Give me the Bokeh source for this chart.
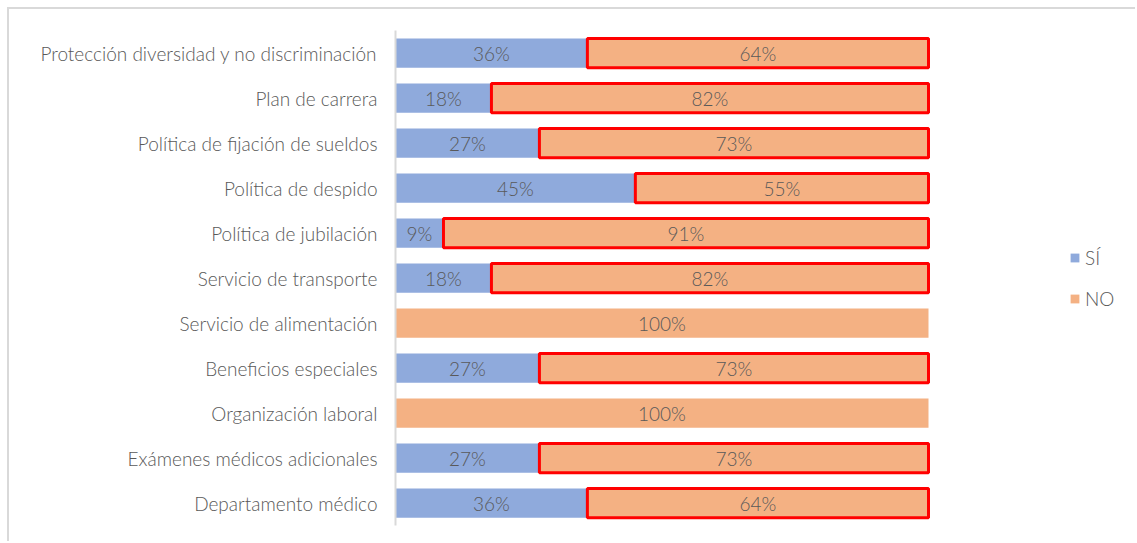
from bokeh.plotting import figure
from bokeh.models import ColumnDataSource, Range1d, FactorRange, Legend, LegendItem
from bokeh.core.properties import value
from bokeh.embed import file_html
from bokeh.resources import INLINE

categories = [
    "Protección diversidad y no discriminación",
    "Plan de carrera",
    "Política de fijación de sueldos",
    "Política de despido",
    "Política de jubilación",
    "Servicio de transporte",
    "Servicio de alimentación",
    "Beneficios especiales",
    "Organización laboral",
    "Exámenes médicos adicionales",
    "Departamento médico",
]
si_values = [36, 18, 27, 45, 9, 18, 0, 27, 0, 27, 36]
no_values = [64, 82, 73, 55, 91, 82, 100, 73, 100, 73, 64]
series_names = ["SÍ", "NO"]

BLUE = "#8FAADC"
ORANGE = "#F4B183"
RED = "#FF0000"
TEXT = "#595959"
FONT = "Lato Light"

src = ColumnDataSource(dict(cat=categories, si=si_values, no=no_values,
                            no_end=[s + n for s, n in zip(si_values, no_values)]))

out_idx = [i for i, s in enumerate(si_values) if s > 0]
out_src = ColumnDataSource(dict(cat=[categories[i] for i in out_idx],
                                left=[si_values[i] for i in out_idx],
                                right=[si_values[i] + no_values[i] for i in out_idx]))

lab_cat, lab_x, lab_txt = [], [], []
for c, s, n in zip(categories, si_values, no_values):
    if s > 0:
        lab_cat.append(c); lab_x.append(s / 2); lab_txt.append(f"{s}%")
    if n > 0:
        lab_cat.append(c); lab_x.append(s + n / 2); lab_txt.append(f"{n}%")
lab_src = ColumnDataSource(dict(cat=lab_cat, x=lab_x, t=lab_txt))

OFF = 9  # outer chart border (7px gap + 2px line)
W, H = 1137 - OFF, 543 - OFF
left_b, right_b, top_b, bot_b = 395 - OFF, 7, 30 - OFF, 18
frame_w = W - left_b - right_b
px_per_pct = 5.33

p = figure(width=W, height=H, output_backend="svg", toolbar_location=None,
           y_range=FactorRange(factors=categories[::-1], range_padding=0),
           x_range=Range1d(0, frame_w / px_per_pct),
           min_border_left=left_b, min_border_right=right_b,
           min_border_top=top_b, min_border_bottom=bot_b,
           margin=(7, 0, 0, 7))
p.styles = {"border-top": "2px solid #D9D9D9", "border-left": "2px solid #D9D9D9"}
p.outline_line_color = None
p.xgrid.visible = False
p.ygrid.visible = False
p.xaxis.visible = False

ax = p.yaxis[0]
ax.axis_line_color = "#D9D9D9"
ax.axis_line_width = 2
ax.major_tick_line_color = None
ax.minor_tick_line_color = None
ax.major_tick_out = 0
ax.major_label_standoff = 18
ax.major_label_text_font = FONT
ax.major_label_text_font_size = "19px"
ax.major_label_text_color = TEXT

bh = 0.65
r_si = p.hbar(y="cat", left=0, right="si", height=bh, source=src,
              fill_color=BLUE, line_color=None)
r_no = p.hbar(y="cat", left="si", right="no_end", height=bh, source=src,
              fill_color=ORANGE, line_color=None)
p.hbar(y="cat", left="left", right="right", height=bh, source=out_src,
       fill_color=None, line_color=RED, line_width=3)

p.text(x="x", y="cat", text="t", source=lab_src, text_align="center",
       text_baseline="middle", text_font=value(FONT), text_font_size="19px",
       text_color=TEXT)

legend = Legend(items=[LegendItem(label=series_names[0], renderers=[r_si]),
                       LegendItem(label=series_names[1], renderers=[r_no])],
                location=(674, 215), orientation="vertical",
                glyph_width=11, glyph_height=11, label_height=20, spacing=18,
                label_standoff=5, padding=0, margin=0,
                border_line_color=None, background_fill_alpha=0,
                label_text_font=FONT, label_text_font_size="19px",
                label_text_color=TEXT)
p.add_layout(legend, "center")

open("out.html", "w").write(file_html(p, INLINE))
